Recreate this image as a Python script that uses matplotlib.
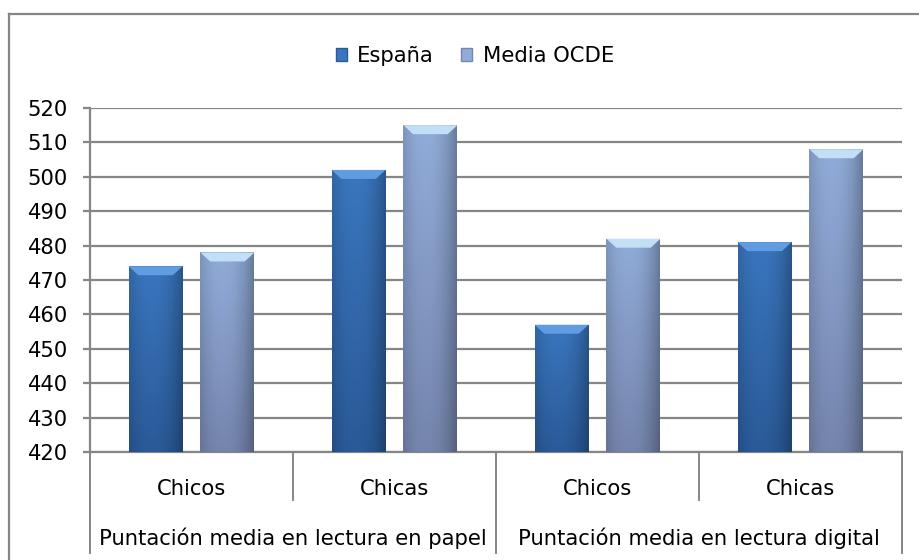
import numpy as np
import matplotlib
matplotlib.use("Agg")
import matplotlib.pyplot as plt
import matplotlib.transforms as mtransforms
from matplotlib.patches import Patch, Polygon
from matplotlib.lines import Line2D

plt.rcParams["font.family"] = ["DejaVu Sans"]

# data
categories = ["Chicos", "Chicas", "Chicos", "Chicas"]
groups = ["Puntación media en lectura en papel", "Puntación media en lectura digital"]
espana = [474, 502, 457, 481]
ocde = [478, 515, 482, 508]
series_names = ["España", "Media OCDE"]

GRID = "#868686"
FS = 15.2
# (bottom, top, bevel) colours of each series
shades = {
    "España": ("#2a5a98", "#3a76be", "#5f9de0"),
    "Media OCDE": ("#7585ad", "#91acd9", "#c3dff5"),
}

fig = plt.figure(figsize=(9.19, 5.6), dpi=100)
ax = fig.add_axes([90 / 919, 1 - 452 / 560, (902 - 90) / 919, (452 - 108) / 560])

x = np.arange(len(categories))
w = 0.266
off = 0.177
bars_e = ax.bar(x - off, espana, w, color=shades["España"][1], zorder=3)
bars_o = ax.bar(x + off, ocde, w, color=shades["Media OCDE"][1], zorder=3)

ax.set_ylim(420, 520)
ax.set_xlim(-0.5, len(categories) - 0.5)
ax.set_yticks(np.arange(420, 521, 10))
ax.yaxis.grid(True, color=GRID, linewidth=1.6, zorder=0)
ax.set_axisbelow(True)
for s in ["top", "right"]:
    ax.spines[s].set_visible(False)
for s in ["left", "bottom"]:
    ax.spines[s].set_color(GRID)
    ax.spines[s].set_linewidth(1.6)
ax.tick_params(axis="y", length=5, width=1.6, color=GRID, pad=11, labelsize=FS)
ax.set_xticks([])


def hex2rgb(h):
    return np.array(matplotlib.colors.to_rgb(h))


def shade_bar(bar, key):
    bot_c, top_c, bev_c = shades[key]
    x0, bw, top = bar.get_x(), bar.get_width(), bar.get_height()
    y0 = ax.get_ylim()[0]
    nx, ny = 60, 80
    t = np.linspace(0, 1, nx)
    s = np.linspace(1, 0, ny)[:, None]
    col = hex2rgb(bot_c) * (1 - s[..., None]) + hex2rgb(top_c) * s[..., None]
    h = 1 - 0.28 * (np.abs(t - 0.42) / 0.58) ** 2.2
    img = np.clip(col * h[None, :, None], 0, 1)
    im = ax.imshow(img, extent=[x0, x0 + bw, y0, top], aspect="auto",
                   zorder=3.5, interpolation="bilinear")
    im.set_clip_path(bar)
    dx, dy = 0.048, 2.6
    bev = Polygon([[x0, top], [x0 + bw, top], [x0 + bw - dx, top - dy],
                   [x0 + dx, top - dy]], closed=True, facecolor=bev_c,
                  edgecolor="none", zorder=4)
    ax.add_patch(bev)


for b in bars_e:
    shade_bar(b, "España")
for b in bars_o:
    shade_bar(b, "Media OCDE")
ax.set_xlim(-0.5, len(categories) - 0.5)
ax.set_ylim(420, 520)

# category axis below the plot
trans = mtransforms.blended_transform_factory(ax.transData, ax.transAxes)
for i, c in enumerate(categories):
    ax.text(i, -0.107, c, transform=trans, ha="center", va="center", fontsize=FS)
for g, name in enumerate(groups):
    ax.text(2 * g + 0.5, -0.25, name, transform=trans, ha="center", va="center",
            fontsize=FS)
for xb in [0.5, 2.5]:
    ax.add_line(Line2D([xb, xb], [0, -0.14], transform=trans, color=GRID,
                       linewidth=1.4, clip_on=False))
for xb in [-0.5, 1.5, 3.5]:
    ax.add_line(Line2D([xb, xb], [0, -0.294], transform=trans, color=GRID,
                       linewidth=1.4, clip_on=False))

# legend
handles = [Patch(facecolor=shades[n][1], edgecolor=shades[n][0]) for n in series_names]
fig.legend(handles, series_names, loc="center", bbox_to_anchor=(475 / 919, 1 - 56 / 560),
           ncol=2, frameon=False, fontsize=FS, handlelength=0.5, handleheight=0.5,
           handletextpad=0.5, columnspacing=1.3)

# outer chart frame (cut at right and bottom edge)
fig.add_artist(Line2D([9 / 919, 1], [1 - 14 / 560] * 2, transform=fig.transFigure,
                      color=GRID, linewidth=1.6))
fig.add_artist(Line2D([9 / 919] * 2, [0, 1 - 14 / 560], transform=fig.transFigure,
                      color=GRID, linewidth=1.6))

fig.savefig("out.png", dpi=100)
